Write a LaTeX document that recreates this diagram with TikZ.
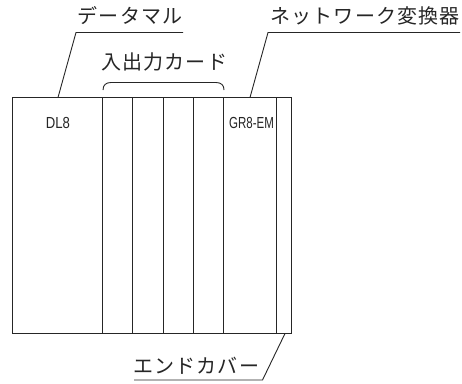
\documentclass[tikz,border=0pt]{standalone}
\usepackage{fontspec}
\setmainfont{Liberation Sans}
\newfontfamily\cjk[LetterSpace=6]{Noto Sans CJK JP}
\usetikzlibrary{calc}
\tikzset{
  ln/.style={draw=black!85,line width=1pt},
  leader/.style={draw=black!85,line width=0.9pt},
  jp/.style={inner sep=0pt,font=\cjk\fontsize{20}{21}\selectfont,text=black!85},
  model/.style={inner sep=0pt,font=\fontsize{16}{17}\selectfont,text=black!85}
}
\begin{document}
\begin{tikzpicture}[x=1pt,y=-1pt]
\useasboundingbox (0,0) rectangle (462,383);
\fill[white] (0,0) rectangle (462,383);
\coordinate (tl) at (12.5,97.5);
\coordinate (br) at (291.5,333.5);
\draw[ln] (tl) rectangle (br);
\foreach \x/\n in {102.5/a,132.5/b,163.5/c,193.5/d,223.5/e,276.5/f}{
  \draw[ln] (\x,97.5) coordinate (t\n) -- (\x,333.5) coordinate (b\n);
}
\node[jp] (lbl1) at (130,16) {データマル};
\node[jp] (lbl2) at (164,62) {入出力カード};
\node[jp] (lbl3) at (365,16) {ネットワーク変換器};
\node[jp] (lbl4) at (196,366) {エンドカバー};
\node[model] (dl) at (58,122.5) {\scalebox{.82}[1]{DL8}};
\node[model] (gr) at (251.5,122.5) {\scalebox{.72}[1]{GR8-EM}};
\coordinate (l1a) at (58,97.5);
\coordinate (l1b) at (76,32.5);
\coordinate (l1c) at (183,32.5);
\coordinate (l2a) at (250,97.5);
\coordinate (l2b) at (268,32.5);
\coordinate (l2c) at (460,32.5);
\coordinate (l3a) at (285,333.5);
\coordinate (l3b) at (262.5,380);
\coordinate (l3c) at (134,380);
\draw[leader] (l1a) -- (l1b) -- (l1c);
\draw[leader] (l2a) -- (l2b) -- (l2c);
\draw[leader] (l3a) -- (l3b) -- (l3c);
\draw[leader] (103,90) .. controls (103,85) and (106,82.5) .. (111,82.5) -- (216,82.5) .. controls (221,82.5) and (224,85) .. (224,90);
\end{tikzpicture}
\end{document}
